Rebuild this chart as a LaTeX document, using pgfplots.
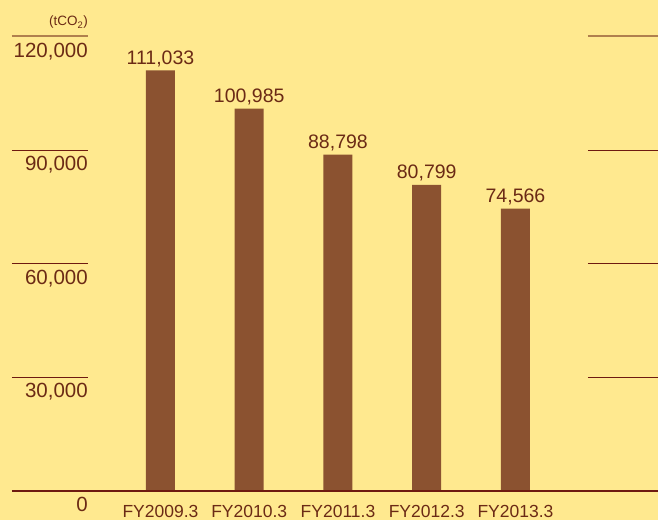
\documentclass[border=0pt]{standalone}
\usepackage{pgfplots}
\pgfplotsset{compat=1.18}
\usepackage{fontspec}
\setmainfont{Liberation Sans}
\definecolor{bg}{HTML}{FFE98F}
\definecolor{barc}{HTML}{8B5230}
\definecolor{txt}{HTML}{6B2A15}
\definecolor{linec}{HTML}{6E1A10}
\definecolor{topc}{HTML}{B0804D}
\begin{document}
\begin{tikzpicture}[x=1pt,y=1pt]
\useasboundingbox (0,0) rectangle (658,520);
\clip (0,0) rectangle (658,520);
\fill[bg] (0,0) rectangle (658,520);
\begin{axis}[
  at={(12pt,29pt)}, anchor=south west,
  scale only axis, width=646pt, height=454.5pt,
  xmin=-1.673, xmax=5.606, ymin=0, ymax=120000,
  clip=false,
  axis line style={draw=none},
  major tick length=0pt,
  xtick={0,1,2,3,4},
  xticklabels={FY2009.3,FY2010.3,FY2011.3,FY2012.3,FY2013.3},
  xticklabel style={font=\fontsize{17.5}{20}\selectfont, text=txt, anchor=north, inner sep=0pt, yshift=-14pt},
  ytick={0,30000,60000,90000,120000},
  yticklabels={0,{30,000},{60,000},{90,000},{120,000}},
  yticklabel style={font=\fontsize{20.5}{23}\selectfont, text=txt, anchor=north east, inner sep=0pt, xshift=76pt, yshift=-6pt},
  scaled y ticks=false,
]
\addplot[ybar, bar width=29pt, fill=barc, draw=none,
  nodes near coords,
  nodes near coords style={font=\fontsize{19.5}{22}\selectfont, text=txt, anchor=base, inner sep=0pt, yshift=6pt, /pgf/number format/.cd, fixed, precision=0, 1000 sep={,}, assume math mode=true},
] coordinates {(0,111033) (1,100985) (2,88798) (3,80799) (4,74566)};
\addplot[topc, line width=2pt, forget plot] coordinates {(-1.673,120000) (-0.817,120000)};
\addplot[topc, line width=2pt, forget plot] coordinates {(4.817,120000) (5.606,120000)};
\addplot[linec, line width=1.2pt, forget plot] coordinates {(-1.673,90000) (-0.817,90000)};
\addplot[linec, line width=1.2pt, forget plot] coordinates {(4.817,90000) (5.606,90000)};
\addplot[linec, line width=1.2pt, forget plot] coordinates {(-1.673,60000) (-0.817,60000)};
\addplot[linec, line width=1.2pt, forget plot] coordinates {(4.817,60000) (5.606,60000)};
\addplot[linec, line width=1.2pt, forget plot] coordinates {(-1.673,30000) (-0.817,30000)};
\addplot[linec, line width=1.2pt, forget plot] coordinates {(4.817,30000) (5.606,30000)};
\addplot[linec, line width=1.5pt, forget plot] coordinates {(-1.673,0) (5.606,0)};
\node[anchor=base east, inner sep=0pt, text=txt, font=\fontsize{13.5}{15}\selectfont, yshift=10.5pt] at (axis cs:-0.817,120000) {(tCO\textsubscript{2})};
\end{axis}
\end{tikzpicture}
\end{document}
